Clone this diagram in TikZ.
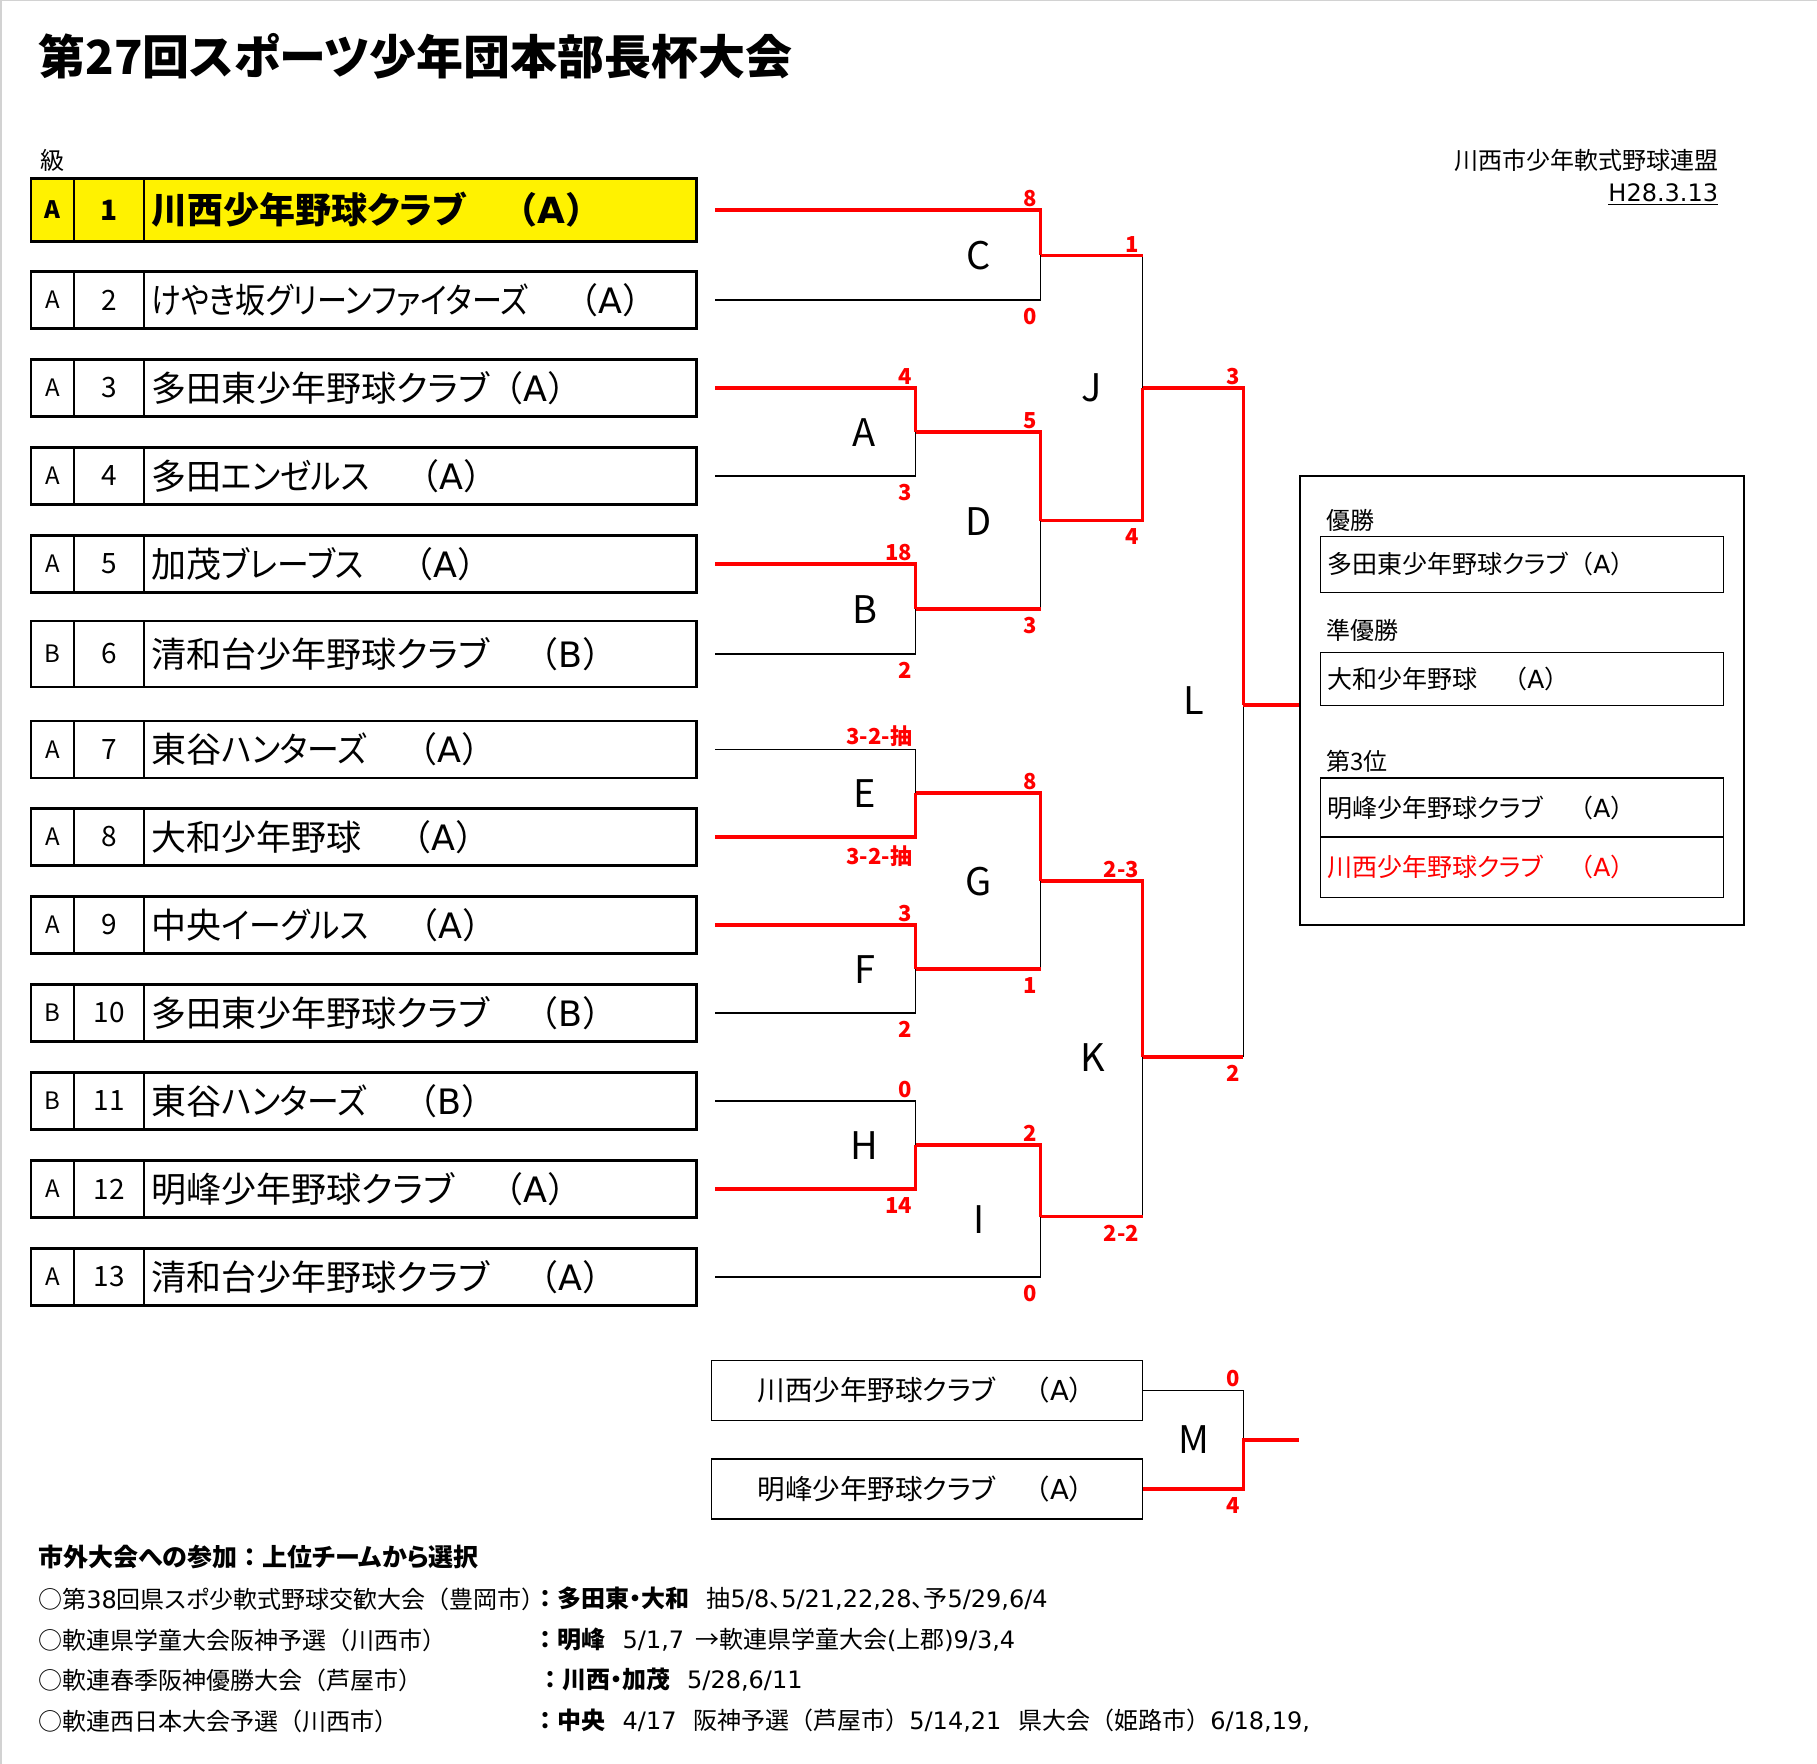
\documentclass[tikz,border=0pt]{standalone}
\usepackage{graphicx}
\usepackage{fontspec}
\setmainfont{Noto Sans CJK JP}[RawFeature=+palt]
\newfontfamily\fullw{Noto Sans CJK JP}
\newfontfamily\lat{DejaVu Sans}
\usetikzlibrary{positioning}
\newcommand{\grp}[1]{{\fullw （}{\lat #1}{\fullw ）}}
\newcommand{\plc}[1]{{\fullw （}#1{\fullw ）}}
\newcommand{\kn}[2][.91]{\scalebox{#1}[1]{#2}}

\begin{document}
\begin{tikzpicture}[
    x=0.5pt, y=-0.5pt,
    cell/.style={draw, line width=0.6pt, inner sep=0pt, minimum height=28pt},
    gradecell/.style={cell, minimum width=21pt, font=\fontsize{12}{14}\selectfont},
    numcell/.style={cell, minimum width=34.25pt, font=\fontsize{14}{16}\selectfont},
    namecell/.style={cell, text width=268.75pt, inner xsep=3.5pt, align=left, font=\fontsize{17.5}{20}\selectfont},
    rowframe/.style={line width=1.2pt},
    lose/.style={line width=0.6pt},
    win/.style={red, line width=1.75pt},
    score/.style={text=red, inner sep=0pt, font=\bfseries\fontsize{11}{11}\selectfont},
    scoreup/.style={score, anchor=south east, xshift=-1.5pt, yshift=1.5pt},
    scoredn/.style={score, anchor=north east, xshift=-1.5pt, yshift=-4pt},
    match/.style={font=\fontsize{19}{19}\selectfont},
    txt/.style={inner sep=0pt, font=\fontsize{12}{14}\selectfont},
    note/.style={txt, anchor=west},
    resbox/.style={draw, line width=0.6pt, inner sep=0pt, text width=194.5pt, inner xsep=3.5pt, align=left, font=\fontsize{12.5}{14}\selectfont},
    mbox/.style={draw, line width=0.6pt, minimum width=215.5pt, minimum height=30pt, inner sep=0pt, font=\fontsize{13.75}{16}\selectfont}
]
\useasboundingbox (0,0) rectangle (1817,1764);
\draw[gray!35, line width=1.5pt] (0,1764) -- (0,0) -- (1817,0);

% 1. 見出し
\node[txt, anchor=west, font=\bfseries\fontsize{23.5}{24}\selectfont] (title) at (38,56) {第27回スポーツ少年団本部長杯大会};
\node[note] (kyu) at (40,160) {級};
\node[txt, anchor=east] (org) at (1718.5,160) {川西市少年軟式野球連盟};
\node[txt, anchor=east] (date) at (1718.5,195) {\underline{\lat H28.3.13}};

% 2. 参加チーム (1番だけ黄色・太字)
\node[gradecell, anchor=west, fill=yellow, minimum height=31pt, font=\bfseries\fontsize{12}{14}\selectfont] (g1) at (31,210) {A};
\node[numcell, fill=yellow, minimum height=31pt, font=\bfseries\fontsize{14}{16}\selectfont, right=0pt of g1] (n1) {1};
\node[namecell, fill=yellow, minimum height=31pt, font=\bfseries\fontsize{18}{20}\selectfont, right=0pt of n1] (t1) {川西少年野球クラブ　\grp{A}};
\draw[rowframe] (g1.north west) rectangle (t1.south east);
\coordinate (s1) at ([xshift=9.25pt]t1.east);

\foreach \rk/\yy/\hh/\gr/\nm in {
    2/300/28/A/\kn[.86]{けやき坂グリーンファイターズ}　\grp{A},
    3/388/28/A/多田東少年野球クラブ\grp{A},
    4/476/28/A/多田\kn{エンゼルス}　\grp{A},
    5/564/28/A/加茂\kn{ブレーブス}　\grp{A},
    6/654/32.5/B/清和台少年野球クラブ　\grp{B},
    7/749.5/28/A/東谷\kn{ハンターズ}　\grp{A},
    8/837/28/A/大和少年野球　\grp{A},
    9/925/28/A/中央\kn{イーグルス}　\grp{A},
    10/1013/28/B/多田東少年野球クラブ　\grp{B},
    11/1101/28/B/東谷\kn{ハンターズ}　\grp{B},
    12/1189/28/A/明峰少年野球クラブ　\grp{A},
    13/1277/28/A/清和台少年野球クラブ　\grp{A}} {
    \node[gradecell, anchor=west, minimum height=\hh*1pt] (g\rk) at (31,\yy) {\gr};
    \node[numcell, minimum height=\hh*1pt, right=0pt of g\rk] (n\rk) {\rk};
    \node[namecell, minimum height=\hh*1pt, right=0pt of n\rk] (t\rk) {\nm};
    \draw[rowframe] (g\rk.north west) rectangle (t\rk.south east);
    \coordinate (s\rk) at ([xshift=9.25pt]t\rk.east);
}

% 3. 組み合わせの分岐点
\coordinate (Aout) at (915.5,432.2);
\coordinate (Bout) at (915.5,609);
\coordinate (Eout) at (915.5,793.2);
\coordinate (Fout) at (915.5,969);
\coordinate (Hout) at (915.5,1145);
\coordinate (Cout) at (1040.6,255.5);
\coordinate (Dout) at (1040.6,520.6);
\coordinate (Gout) at (1040.6,881);
\coordinate (Iout) at (1040.6,1216.7);
\coordinate (Jout) at (1142.6,388.2);
\coordinate (Kout) at (1142.6,1056.8);
\coordinate (Lout) at (1243.4,705);

% 4. 結果ボックス
\node[draw, line width=0.6pt, minimum width=222pt, minimum height=224.5pt, inner sep=0pt] (res) at (1522,700.5) {};
\node[note] (lab1) at (1325.7,520.7) {優勝};
\node[resbox, minimum height=28pt] (w1) at (1521.8,564.3) {多田東少年野球クラブ\grp{A}};
\node[note] (lab2) at (1325.7,630) {準優勝};
\node[resbox, minimum height=26.5pt] (w2) at (1521.8,678.8) {大和少年野球　\grp{A}};
\node[note] (lab3) at (1325.7,761.7) {第3位};
\node[resbox, minimum height=29.5pt] (w3) at (1521.8,807.5) {明峰少年野球クラブ　\grp{A}};
\node[resbox, minimum height=30pt, text=red] (w4) at (1521.8,867.3) {川西少年野球クラブ　\grp{A}};

% 5. トーナメント線 (黒の上に勝ち上がりの赤)
\draw[lose] (s1) -| (Cout) (s2) -| (Cout);
\draw[lose] (s3) -| (Aout) (s4) -| (Aout);
\draw[lose] (s5) -| (Bout) (s6) -| (Bout);
\draw[lose] (s7) -| (Eout) (s8) -| (Eout);
\draw[lose] (s9) -| (Fout) (s10) -| (Fout);
\draw[lose] (s11) -| (Hout) (s12) -| (Hout);
\draw[lose] (Aout) -| (Dout) (Bout) -| (Dout);
\draw[lose] (Eout) -| (Gout) (Fout) -| (Gout);
\draw[lose] (Hout) -| (Iout) (s13) -| (Iout);
\draw[lose] (Cout) -| (Jout) (Dout) -| (Jout);
\draw[lose] (Gout) -| (Kout) (Iout) -| (Kout);
\draw[lose] (Jout) -| (Lout) (Kout) -| (Lout);

\draw[win] (s1) -| (Cout);
\draw[win] (s3) -| (Aout);
\draw[win] (s5) -| (Bout);
\draw[win] (s8) -| (Eout);
\draw[win] (s9) -| (Fout);
\draw[win] (s12) -| (Hout);
\draw[win] (Aout) -| (Dout);
\draw[win] (Bout) -- (Bout -| Dout);
\draw[win] (Eout) -| (Gout);
\draw[win] (Fout) -- (Fout -| Gout);
\draw[win] (Hout) -| (Iout);
\draw[win] (Dout) -| (Jout);
\draw[win] (Cout) -- (Cout -| Jout);
\draw[win] (Gout) -| (Kout);
\draw[win] (Iout) -- (Iout -| Kout);
\draw[win] (Jout) -| (Lout);
\draw[win] (Kout) -- (Kout -| Lout);
\draw[win] (Lout) -- (Lout -| res.west);

% 6. 試合記号
\node[match] (mA) at (864.5,433) {A};
\node[match] (mB) at (864.5,609.5) {B};
\node[match] (mE) at (864.5,794) {E};
\node[match] (mF) at (864.5,970) {F};
\node[match] (mH) at (864.5,1146) {H};
\node[match] (mC) at (979,256) {C};
\node[match] (mD) at (979,521.5) {D};
\node[match] (mG) at (979,882) {G};
\node[match] (mI) at (979,1220) {I};
\node[match] (mJ) at (1091.6,388) {J};
\node[match] (mK) at (1092.7,1058) {K};
\node[match] (mL) at (1193.6,701) {L};

% 7. スコア
\node[scoreup] (sc1) at (s1 -| Cout) {8};
\node[scoredn] (sc2) at (s2 -| Cout) {0};
\node[scoreup] (sc3) at (s3 -| Aout) {4};
\node[scoredn] (sc4) at (s4 -| Aout) {3};
\node[scoreup] (sc5) at (s5 -| Bout) {18};
\node[scoredn] (sc6) at (s6 -| Bout) {2};
\node[scoreup] (sc7) at (s7 -| Eout) {3-2-抽};
\node[scoredn] (sc8) at (s8 -| Eout) {3-2-抽};
\node[scoreup] (sc9) at (s9 -| Fout) {3};
\node[scoredn] (sc10) at (s10 -| Fout) {2};
\node[scoreup] (sc11) at (s11 -| Hout) {0};
\node[scoredn] (sc12) at (s12 -| Hout) {14};
\node[scoreup] (scA) at (Aout -| Dout) {5};
\node[scoredn] (scB) at (Bout -| Dout) {3};
\node[scoreup] (scE) at (Eout -| Gout) {8};
\node[scoredn] (scF) at (Fout -| Gout) {1};
\node[scoreup] (scH) at (Hout -| Iout) {2};
\node[scoredn] (sc13) at (s13 -| Iout) {0};
\node[scoreup] (scC) at (Cout -| Jout) {1};
\node[scoredn] (scD) at (Dout -| Jout) {4};
\node[scoreup] (scG) at (Gout -| Kout) {2-3};
\node[scoredn] (scI) at (Iout -| Kout) {2-2};
\node[scoreup] (scJ) at (Jout -| Lout) {3};
\node[scoredn] (scK) at (Kout -| Lout) {2};

% 8. 3位決定戦 M
\node[mbox] (mb1) at (927,1390.5) {川西少年野球クラブ　\grp{A}};
\node[mbox] (mb2) at (927,1489) {明峰少年野球クラブ　\grp{A}};
\coordinate (Mout) at (1243.4,1440.2);
\draw[lose] (mb1.east) -| (Mout) (mb2.east) -| (Mout);
\draw[win] (mb2.east) -| (Mout) -- (Mout -| res.west);
\node[match] (mM) at (1193.6,1440) {M};
\node[scoreup] (scM1) at (mb1.east -| Mout) {0};
\node[scoredn] (scM2) at (mb2.east -| Mout) {4};

% 9. 市外大会
\node[note, font=\bfseries\fontsize{12.5}{14}\selectfont] (nhead) at (38,1557) {市外大会への参加{\fullw ：}上位チームから選択};
\node[note] (n1l) at (38,1599) {○第{\lat 38}回県スポ少軟式野球交歓大会\plc{豊岡市}};
\node[note] (n1r) at (533.5,1599) {\textbf{{\fullw ：}多田東・大和}\hspace{.7em}抽{\lat 5/8}、{\lat 5/21,22,28}、予{\lat 5/29,6/4}};
\node[note] (n2l) at (38,1640) {○軟連県学童大会阪神予選\plc{川西市}};
\node[note] (n2r) at (533.5,1640) {\textbf{{\fullw ：}明峰}\hspace{.7em}{\lat 5/1,7}\hspace{.45em}→軟連県学童大会{\lat (}上郡{\lat )9/3,4}};
\node[note] (n3l) at (38,1680) {○軟連春季阪神優勝大会\plc{芦屋市}};
\node[note] (n3r) at (538,1680) {\textbf{{\fullw ：}川西・加茂}\hspace{.7em}{\lat 5/28,6/11}};
\node[note] (n4l) at (38,1721) {○軟連西日本大会予選\plc{川西市}};
\node[note] (n4r) at (533.5,1721) {\textbf{{\fullw ：}中央}\hspace{.7em}{\lat 4/17}\hspace{.7em}阪神予選\plc{芦屋市}{\lat 5/14,21}\hspace{.7em}県大会\plc{姫路市}{\lat 6/18,19,}};

\end{tikzpicture}
\end{document}
